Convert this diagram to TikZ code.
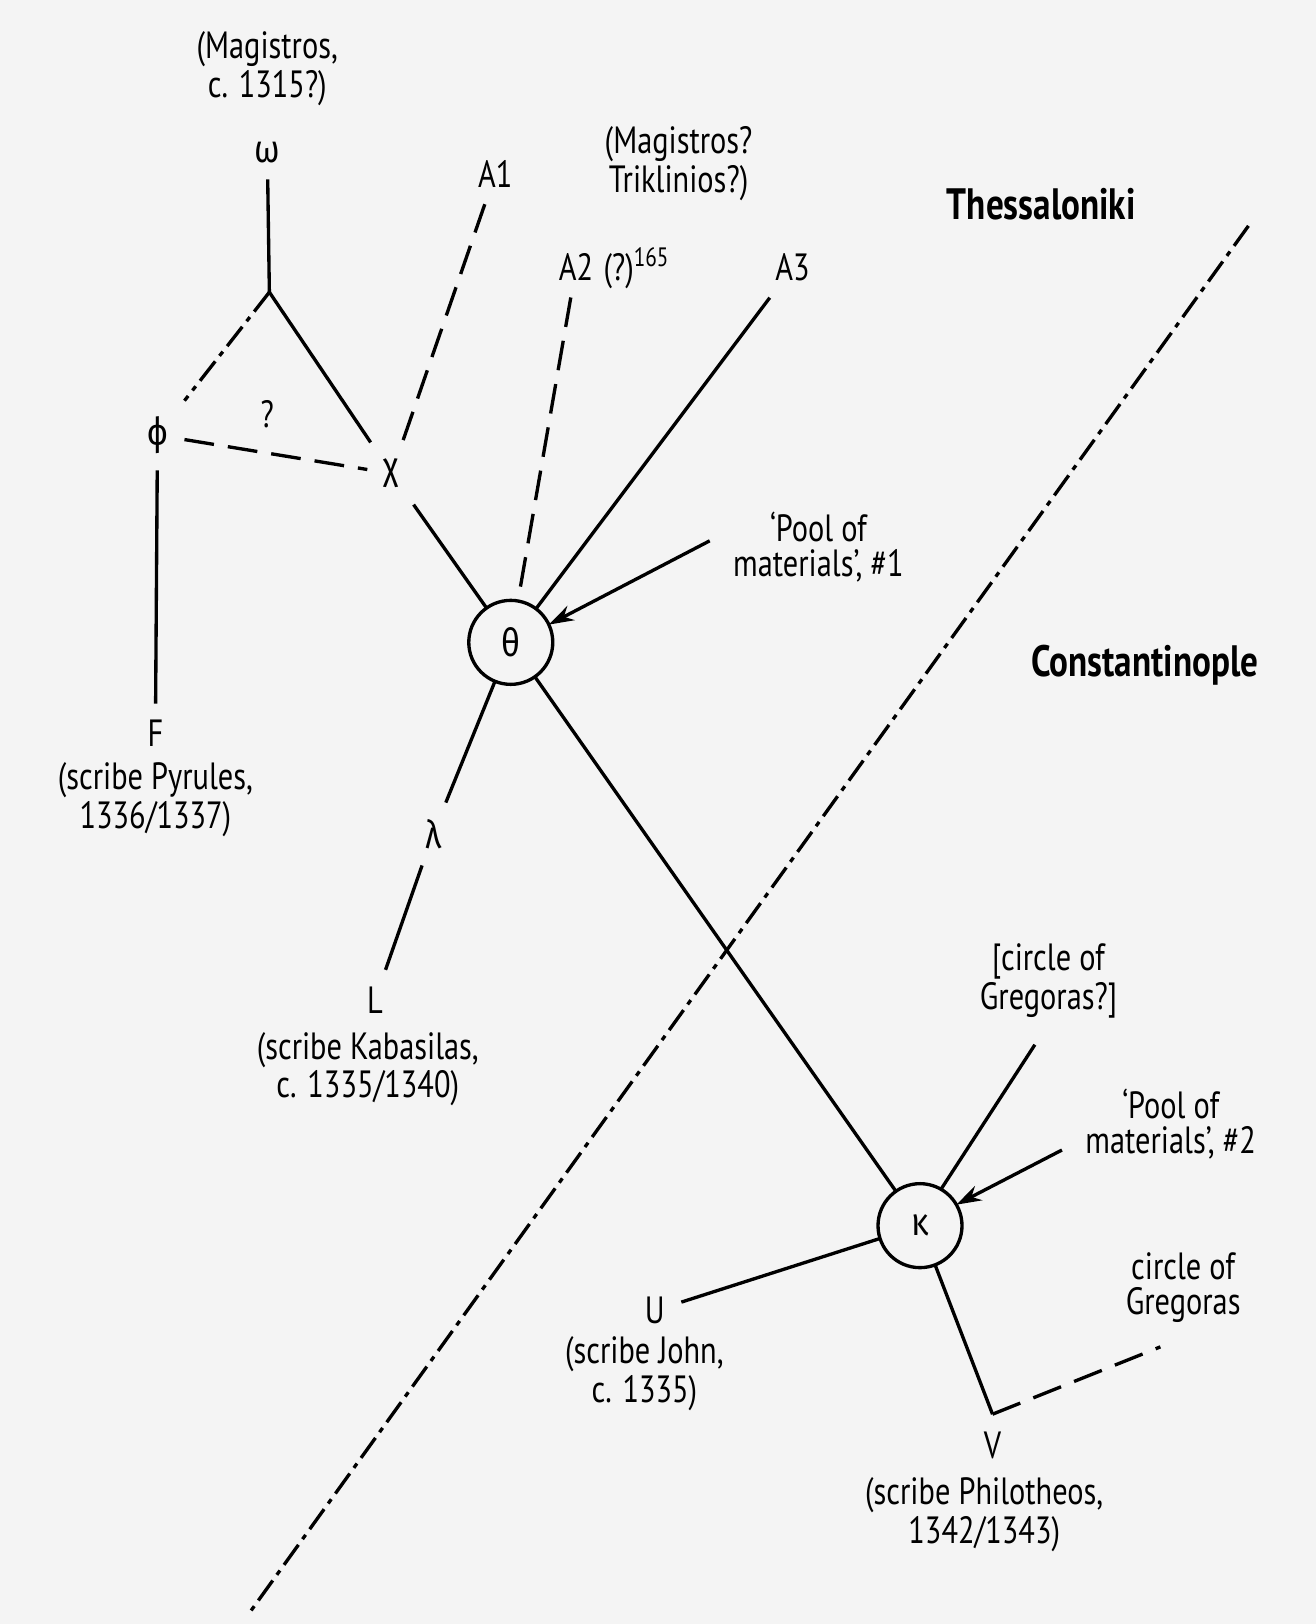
\documentclass[tikz,border=0pt]{standalone}
\usepackage{fontspec}
\setmainfont{PT Sans}[FakeStretch=0.8]
\newfontfamily\grk{Fira Sans}[FakeStretch=0.85]
\usetikzlibrary{arrows.meta}

\tikzset{
  txt/.style={align=center, inner sep=1pt},
  sig/.style={inner sep=1.5mm},
  gsig/.style={sig, font=\grk\fontsize{11}{10}\selectfont},
  ms/.style={draw, circle, minimum size=8.4mm, inner sep=0pt, outer sep=0pt,
    font=\grk\fontsize{11}{10}\selectfont},
  lost/.style={dash pattern=on 8.5pt off 4pt},
  border/.style={dash pattern=on 7pt off 2pt on 1.5pt off 2pt},
  place/.style={font=\fontsize{12.5}{12}\selectfont\bfseries},
  arr/.style={-{Stealth[length=2.5mm,width=1.6mm]}},
}

\begin{document}
\begin{tikzpicture}[x=0.1036mm,y=-0.1036mm,line width=0.95pt,
  every node/.style={font=\fontsize{10.8}{10}\selectfont}]
\fill[gray!9] (0,0) rectangle (1270,1567.5);
\useasboundingbox (0,0) rectangle (1270,1567.5);
% Thessaloniki side
\node[txt] (magw) at (258,66) {(Magistros,\\c. 1315?)};
\node[gsig] (omega) at (258,147) {ω};
\coordinate (jn) at (260,282);
\node[gsig] (phi) at (152,420) {ϕ};
\node (qm) at (258,400) {?};
\node[gsig] (chi) at (378,457) {χ};
\node[sig] (F) at (150,708) {F};
\node[txt] (fdesc) at (150,772) {(scribe Pyrules,\\1336/1337)};
\node[sig] (A1) at (478,168) {A1};
\node[txt] (maga2) at (655,158) {(Magistros?\\Triklinios?)};
\node[sig] (A2) at (556,258) {A2};
\node[anchor=base west, inner sep=0pt] (A2q) at ([xshift=-0.8mm]A2.base east) {(?)\textsuperscript{165}};
\node[sig] (A3) at (765,258) {A3};
\node[ms] (theta) at (493,620) {θ};
\node[txt] (pool1) at (790,528) {`Pool of\\materials', \#1};
\coordinate (p1tail) at (685,522);
\node[gsig] (lambda) at (418,805) {λ};
\node[sig] (L) at (362,965) {L};
\node[txt] (ldesc) at (355,1032) {(scribe Kabasilas,\\c. 1335/1340)};
% Constantinople side
\node[ms] (kappa) at (888,1183) {κ};
\node[txt] (gq) at (1012,947) {[circle of\\Gregoras?]};
\node[txt] (pool2) at (1130,1085) {`Pool of\\materials', \#2};
\coordinate (p2tail) at (1025,1110);
\node[txt] (greg) at (1142,1243) {circle of\\Gregoras};
\coordinate (gend) at (1120,1300);
\node[sig] (U) at (632,1265) {U};
\node[txt] (udesc) at (622,1326) {(scribe John,\\c. 1335)};
\coordinate (vc) at (958,1365);
\node[sig] (V) at (958,1395) {V};
\node[txt] (vdesc) at (950,1462) {(scribe Philotheos,\\1342/1343)};
% the border
\node[place] (thess) at (1005,197) {Thessaloniki};
\node[place] (const) at (1105,642) {Constantinople};
\coordinate (bd1) at (1205,218);
\coordinate (bd2) at (242,1555);
\draw[border] (bd1) -- (bd2);

\draw (omega) -- (jn);
\draw[border] (jn) -- (phi);
\draw (jn) -- (chi);
\draw[lost] (phi) -- (chi);
\draw (phi) -- (F);
\draw[lost] (A1) -- (chi);
\draw (chi) -- (theta);
\draw[lost] (A2) -- (theta);
\draw (A3) -- (theta);
\draw[arr] (p1tail) -- (theta.25);
\draw (theta) -- (lambda);
\draw (lambda) -- (L);
\draw (theta) -- (kappa);
\draw[shorten <=2.5mm] (gq.south) -- (kappa.60);
\draw[arr] (p2tail) -- (kappa.30);
\draw (kappa) -- (U);
\draw (kappa) -- (vc);
\draw[lost] (vc) -- (gend);
\end{tikzpicture}
\end{document}
